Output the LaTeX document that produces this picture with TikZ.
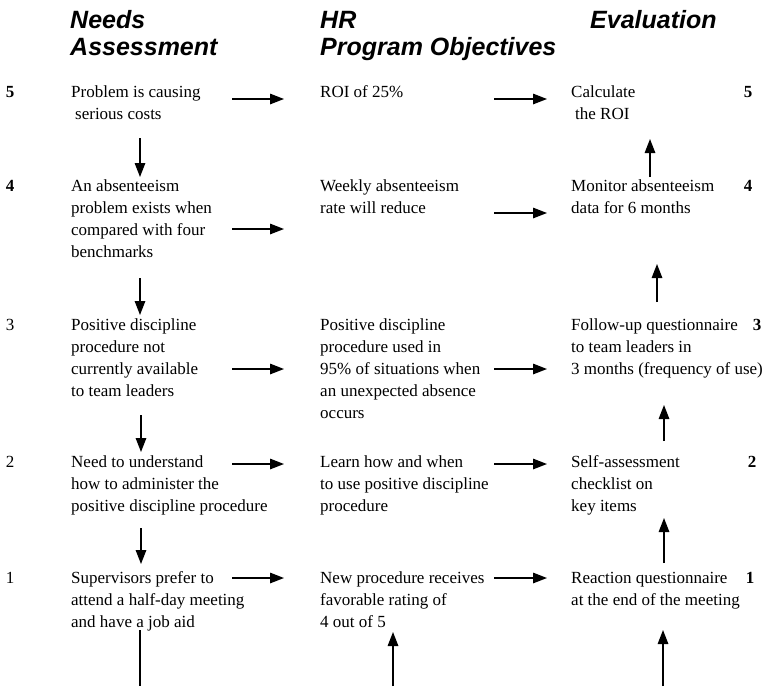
\documentclass[tikz,border=0pt]{standalone}
\usepackage{fontspec}
\setmainfont{Liberation Serif}
\newfontfamily\headfont{Liberation Sans}
\usetikzlibrary{arrows.meta}

% multi-line block whose baseline is the first line's baseline
\newcommand{\block}[1]{\begin{tabular}[t]{@{}l@{}}#1\end{tabular}}

\tikzset{
  body/.style={anchor=base west, inner sep=0pt,
    font=\fontsize{17}{22}\selectfont},
  head/.style={anchor=base west, inner sep=0pt,
    font=\headfont\bfseries\itshape\fontsize{25}{27}\selectfont},
  rownum/.style={anchor=base, inner sep=0pt,
    font=\fontsize{17}{22}\selectfont},
  rownumb/.style={rownum, font=\fontsize{17}{22}\selectfont\bfseries},
  arr/.style={line width=1.4pt, -{Triangle[length=14pt,width=10.5pt]}},
  stem/.style={line width=1.4pt}
}

\begin{document}
\begin{tikzpicture}[x=1pt, y=-1pt]
\useasboundingbox (0,0) rectangle (768,686);

% column headings
\node[head] (h1a) at (70,28) {Needs};
\node[head] (h1b) at (70,55) {Assessment};
\node[head] (h2a) at (320,28) {HR};
\node[head] (h2b) at (320,55) {Program Objectives};
\node[head] (h3a) at (590,28) {Evaluation};

% level numbers, left
\node[rownumb] (l5) at (10,97) {5};
\node[rownumb] (l4) at (10,191) {4};
\node[rownum]  (l3) at (10,330) {3};
\node[rownum]  (l2) at (10,467) {2};
\node[rownum]  (l1) at (10,583) {1};

% level numbers, right
\node[rownumb] (r5) at (748,97) {5};
\node[rownumb] (r4) at (748,191) {4};
\node[rownumb] (r3) at (757,330) {3};
\node[rownumb] (r2) at (752,467) {2};
\node[rownumb] (r1) at (750,583) {1};

% needs assessment column
\node[body] (n5) at (71,97) {\block{Problem is causing\\\hspace{4pt}serious costs}};
\node[body] (n4) at (71,191) {\block{An absenteeism\\problem exists when\\compared with four\\benchmarks}};
\node[body] (n3) at (71,330) {\block{Positive discipline\\procedure not\\currently available\\to team leaders}};
\node[body] (n2) at (71,467) {\block{Need to understand\\how to administer the\\positive discipline procedure}};
\node[body] (n1) at (71,583) {\block{Supervisors prefer to\\attend a half-day meeting\\and have a job aid}};

% program objectives column
\node[body] (o5) at (320,97) {\block{ROI of 25\%}};
\node[body] (o4) at (320,191) {\block{Weekly absenteeism\\rate will reduce}};
\node[body] (o3) at (320,330) {\block{Positive discipline\\procedure used in\\95\% of situations when\\an unexpected absence\\occurs}};
\node[body] (o2) at (320,467) {\block{Learn how and when\\to use positive discipline\\procedure}};
\node[body] (o1) at (320,583) {\block{New procedure receives\\favorable rating of\\4 out of 5}};

% evaluation column
\node[body] (e5) at (571,97) {\block{Calculate\\\hspace{4pt}the ROI}};
\node[body] (e4) at (571,191) {\block{Monitor absenteeism\\data for 6 months}};
\node[body] (e3) at (571,330) {\block{Follow-up questionnaire\\to team leaders in\\3 months (frequency of use)}};
\node[body] (e2) at (571,467) {\block{Self-assessment\\checklist on\\key items}};
\node[body] (e1) at (571,583) {\block{Reaction questionnaire\\at the end of the meeting}};

% arrow end points: needs -> objectives
\coordinate (a5s) at (232,99);  \coordinate (a5e) at (284,99);
\coordinate (a4s) at (232,229); \coordinate (a4e) at (284,229);
\coordinate (a3s) at (232,369); \coordinate (a3e) at (284,369);
\coordinate (a2s) at (232,464); \coordinate (a2e) at (284,464);
\coordinate (a1s) at (232,578); \coordinate (a1e) at (284,578);
% objectives -> evaluation
\coordinate (b5s) at (494,99);  \coordinate (b5e) at (547,99);
\coordinate (b4s) at (494,213); \coordinate (b4e) at (547,213);
\coordinate (b3s) at (494,369); \coordinate (b3e) at (547,369);
\coordinate (b2s) at (494,464); \coordinate (b2e) at (547,464);
\coordinate (b1s) at (494,578); \coordinate (b1e) at (547,578);
% needs assessment, downward
\coordinate (d5s) at (140,138); \coordinate (d5e) at (140,177);
\coordinate (d4s) at (140,278); \coordinate (d4e) at (140,315);
\coordinate (d3s) at (141,415); \coordinate (d3e) at (141,452);
\coordinate (d2s) at (141,528); \coordinate (d2e) at (141,564);
\coordinate (d1s) at (140,630); \coordinate (d1e) at (140,686);
% objectives, upward from below
\coordinate (m0s) at (393,686); \coordinate (m0e) at (393,632);
% evaluation, upward
\coordinate (u0s) at (663,686); \coordinate (u0e) at (663,630);
\coordinate (u1s) at (664,563); \coordinate (u1e) at (664,518);
\coordinate (u2s) at (664,441); \coordinate (u2e) at (664,405);
\coordinate (u3s) at (657,302); \coordinate (u3e) at (657,264);
\coordinate (u4s) at (650,177); \coordinate (u4e) at (650,139);

\foreach \r in {5,4,3,2,1}{
  \draw[arr] (a\r s) -- (a\r e);
  \draw[arr] (b\r s) -- (b\r e);
}
\foreach \r in {5,4,3,2}{
  \draw[arr] (d\r s) -- (d\r e);
}
\draw[stem] (d1s) -- (d1e);
\draw[arr] (m0s) -- (m0e);
\foreach \r in {0,1,2,3,4}{
  \draw[arr] (u\r s) -- (u\r e);
}
\end{tikzpicture}
\end{document}
